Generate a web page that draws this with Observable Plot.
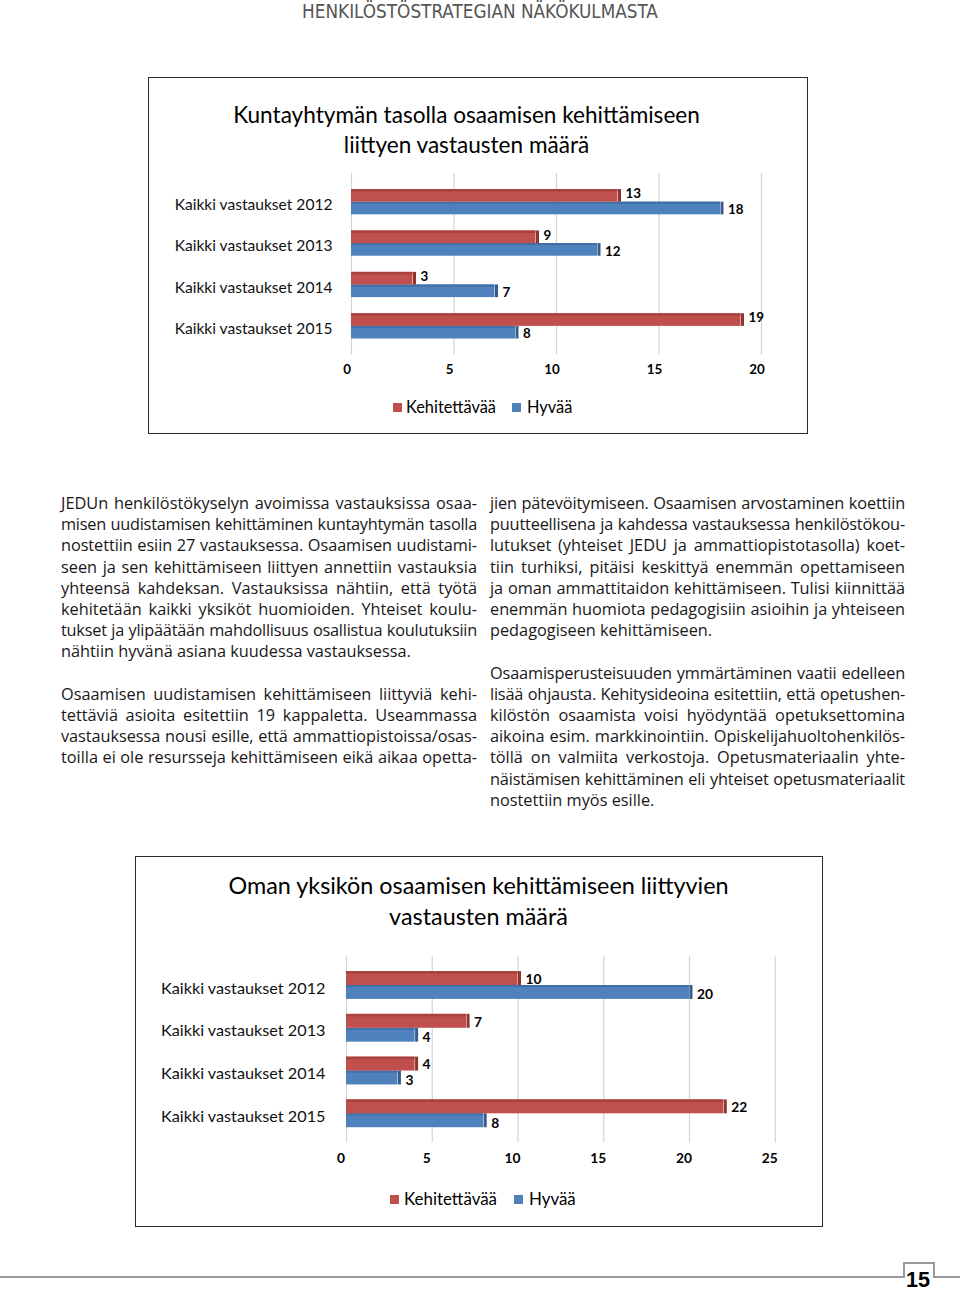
<!DOCTYPE html>
<html><head><meta charset="utf-8">
<script src="https://cdn.jsdelivr.net/npm/d3@7"></script>
<script src="https://cdn.jsdelivr.net/npm/@observablehq/plot@0.6"></script>
<style>
html,body{margin:0;padding:0;background:#fff;}
#page{position:relative;width:960px;height:1291px;overflow:hidden;font-family:Lato,sans-serif;color:#000;}
.abs{position:absolute;white-space:nowrap;}
.col{position:absolute;color:#1a1718;}
.ln{white-space:nowrap;text-align:justify;text-align-last:justify;}
.ln.last{text-align-last:left;}
</style></head><body><div id="page"></div>
<script>
// ---------- data ----------
const categories = ["Kaikki vastaukset 2012","Kaikki vastaukset 2013","Kaikki vastaukset 2014","Kaikki vastaukset 2015"];
const seriesNames = ["Kehitettävää","Hyvää"];
const chart1Title = ["Kuntayhtymän tasolla osaamisen kehittämiseen","liittyen vastausten määrä"];
const chart1Kehitettavaa = [13, 9, 3, 19];
const chart1Hyvaa = [18, 12, 7, 8];
const chart1Ticks = [0, 5, 10, 15, 20];
const chart2Title = ["Oman yksikön osaamisen kehittämiseen liittyvien","vastausten määrä"];
const chart2Kehitettavaa = [10, 7, 4, 22];
const chart2Hyvaa = [20, 4, 3, 8];
const chart2Ticks = [0, 5, 10, 15, 20, 25];
const headerText = "HENKILÖSTÖSTRATEGIAN NÄKÖKULMASTA";
const pageNumber = "15";
const leftColumn = [
 "JEDUn henkilöstökyselyn avoimissa vastauksissa osaa-",
 "misen uudistamisen kehittäminen kuntayhtymän tasolla",
 "nostettiin esiin 27 vastauksessa. Osaamisen uudistami-",
 "seen ja sen kehittämiseen liittyen annettiin vastauksia",
 "yhteensä kahdeksan. Vastauksissa nähtiin, että työtä",
 "kehitetään kaikki yksiköt huomioiden. Yhteiset koulu-",
 "tukset ja ylipäätään mahdollisuus osallistua koulutuksiin",
 "nähtiin hyvänä asiana kuudessa vastauksessa.|",
 "",
 "Osaamisen uudistamisen kehittämiseen liittyviä kehi-",
 "tettäviä asioita esitettiin 19 kappaletta. Useammassa",
 "vastauksessa nousi esille, että ammattiopistoissa/osas-",
 "toilla ei ole resursseja kehittämiseen eikä aikaa opetta-"
];
const rightColumn = [
 "jien pätevöitymiseen. Osaamisen arvostaminen koettiin",
 "puutteellisena ja kahdessa vastauksessa henkilöstökou-",
 "lutukset (yhteiset JEDU ja ammattiopistotasolla) koet-",
 "tiin turhiksi, pitäisi keskittyä enemmän opettamiseen",
 "ja oman ammattitaidon kehittämiseen. Tulisi kiinnittää",
 "enemmän huomiota pedagogisiin asioihin ja yhteiseen",
 "pedagogiseen kehittämiseen.|",
 "",
 "Osaamisperusteisuuden ymmärtäminen vaatii edelleen",
 "lisää ohjausta. Kehitysideoina esitettiin, että opetushen-",
 "kilöstön osaamista voisi hyödyntää opetuksettomina",
 "aikoina esim. markkinointiin. Opiskelijahuoltohenkilös-",
 "töllä on valmiita verkostoja. Opetusmateriaalin yhte-",
 "näistämisen kehittäminen eli yhteiset opetusmateriaalit",
 "nostettiin myös esille.|"
];

// ---------- styles ----------
const RED = "#c0504d", RED_TOP = "#a8423f", RED_SIDE = "#8f3431";
const BLUE = "#4f81bd", BLUE_TOP = "#3f6ea6", BLUE_SIDE = "#345d8e";
const FONT = "Lato";
const BODY_FONT = "'Open Sans'";

const page = document.getElementById("page");
const cvs = document.createElement("canvas").getContext("2d");
function mw(text, weight = "normal", family = FONT) { cvs.font = `${weight} 100px ${family}`; return cvs.measureText(text).width; }
function fit(text, target, weight = "normal", family = FONT) { return 100 * target / mw(text, weight, family); }

function addText(text, {cx, left, cy, size, weight = "normal", family = FONT, color = "#000", k = 0.6}) {
  const d = document.createElement("div");
  d.className = "abs";
  d.textContent = text;
  d.style.fontFamily = family; d.style.fontSize = size + "px"; d.style.fontWeight = weight;
  d.style.lineHeight = size + "px"; d.style.color = color;
  d.style.top = (cy - k * size) + "px";
  if (cx !== undefined) { d.style.left = cx + "px"; d.style.transform = "translateX(-50%)"; }
  else d.style.left = left + "px";
  page.appendChild(d);
  return d;
}
function addBox(left, top, w, h, css) {
  const d = document.createElement("div");
  d.style.position = "absolute"; d.style.left = left + "px"; d.style.top = top + "px";
  d.style.width = w + "px"; d.style.height = h + "px";
  Object.assign(d.style, css || {});
  page.appendChild(d);
  return d;
}

// ---------- header ----------
const HEAD_FAMILY = "'Liberation Sans Narrow','DejaVu Sans Condensed'";
addText(headerText, {cx: 480, cy: 11.5, size: fit(headerText, 356, "normal", HEAD_FAMILY), family: HEAD_FAMILY, color: "#555", k: 0.47});

// ---------- chart builder ----------
function makeChart(cfg) {
  const n = categories.length, p = cfg.padding;
  const yStart = cfg.firstCenter - cfg.step * (1 + p) / 2;
  const yEnd = yStart + cfg.step * (n + p);
  const bw = cfg.step * (1 - p);
  const max = cfg.ticks[cfg.ticks.length - 1];
  const marginLeft = cfg.x0 - cfg.left;
  const marginRight = cfg.width - marginLeft - cfg.unit * max;
  const marginTop = yStart - cfg.top;
  const marginBottom = cfg.height - (yEnd - cfg.top);
  const rows = categories.map((c, i) => ({cat: c, k: cfg.kehit[i], h: cfg.hyvaa[i]}));
  const catSize = fit(categories[0], cfg.catWidth);
  const numSize = fit("20", cfg.numWidth, "bold");
  const tickPad = cfg.tickLabelY - 0.36 * numSize - yEnd;
  const svg = Plot.plot({
    width: cfg.width, height: cfg.height,
    marginLeft, marginRight, marginTop, marginBottom,
    style: {fontFamily: FONT, color: "#000", background: "transparent", overflow: "visible"},
    x: {domain: [0, max], axis: null},
    y: {domain: categories, padding: p, round: false, axis: null},
    marks: [
      Plot.gridX(cfg.ticks, {stroke: "#d4d4d4", strokeOpacity: 1, strokeWidth: 1.2}),
      Plot.axisY({tickSize: 0, tickPadding: cfg.x0 - cfg.catRight, fontSize: catSize, fill: "#111", label: null, dy: cfg.catDy}),
      Plot.axisX(cfg.ticks, {tickSize: 0, tickPadding: tickPad, fontSize: numSize, fontWeight: "bold", dx: cfg.tickDx, fill: "#000", label: null}),
      Plot.barX(rows, {x: "h", y: "cat", fill: BLUE, insetTop: bw / 2}),
      Plot.barX(rows, {x: "h", y: "cat", fill: BLUE_TOP, insetTop: bw / 2, insetBottom: bw / 2 - 2}),
      Plot.tickX(rows, {x: "h", y: "cat", stroke: BLUE_SIDE, strokeWidth: 3, dx: 1.5, insetTop: bw / 2}),
      Plot.barX(rows, {x: "k", y: "cat", fill: RED, insetBottom: bw / 2}),
      Plot.barX(rows, {x: "k", y: "cat", fill: RED_TOP, insetBottom: bw - 2.5}),
      Plot.tickX(rows, {x: "k", y: "cat", stroke: RED_SIDE, strokeWidth: 3, dx: 1.5, insetBottom: bw / 2}),
      Plot.text(rows, {x: "k", y: "cat", text: d => String(d.k), textAnchor: "start", dx: cfg.valDx, dy: cfg.redDy, fontWeight: "bold", fontSize: numSize, fill: "#000"}),
      Plot.text(rows, {x: "h", y: "cat", text: d => String(d.h), textAnchor: "start", dx: cfg.valDx, dy: cfg.blueDy, fontWeight: "bold", fontSize: numSize, fill: "#000"})
    ]
  });
  svg.style.position = "absolute";
  svg.style.left = cfg.left + "px";
  svg.style.top = cfg.top + "px";
  page.appendChild(svg);

  // frame
  addBox(cfg.frame[0], cfg.frame[1], cfg.frame[2] - cfg.frame[0], cfg.frame[3] - cfg.frame[1], {border: "1.6px solid #2a2a2a", boxSizing: "border-box"});
  // title
  const tSize = fit(cfg.title[0], cfg.titleWidth);
  addText(cfg.title[0], {cx: cfg.titleCx, cy: cfg.titleY[0], size: tSize, k: 0.5});
  addText(cfg.title[1], {cx: cfg.titleCx, cy: cfg.titleY[1], size: tSize, k: 0.5});
  // legend
  const lSize = fit(seriesNames[0], cfg.legWidth);
  const L = cfg.legend;
  addBox(L.sq1, L.cy - 4.5, 9, 9, {background: RED});
  addText(seriesNames[0], {left: L.t1, cy: L.cy, size: lSize, k: 0.5});
  addBox(L.sq2, L.cy - 4.5, 9, 9, {background: BLUE});
  addText(seriesNames[1], {left: L.t2, cy: L.cy, size: lSize, k: 0.5});
}

makeChart({
  kehit: chart1Kehitettavaa, hyvaa: chart1Hyvaa, ticks: chart1Ticks, title: chart1Title,
  left: 148, top: 160, width: 659, height: 225,
  x0: 351, unit: 20.5,
  firstCenter: 201.7, step: 41.4, padding: 0.39,
  tickLabelY: 369, tickDx: -4.5, catRight: 332, catWidth: 158.3, catDy: 2.5, numWidth: 15.5,
  valDx: 7.5, redDy: -8.3, blueDy: 7.7,
  frame: [148, 77, 808, 434],
  titleCx: 466.5, titleY: [115, 145], titleWidth: 467,
  legWidth: 90, legend: {cy: 407.5, sq1: 393, t1: 406, sq2: 512, t2: 527}
});
makeChart({
  kehit: chart2Kehitettavaa, hyvaa: chart2Hyvaa, ticks: chart2Ticks, title: chart2Title,
  left: 135, top: 940, width: 687, height: 235,
  x0: 346, unit: 17.15,
  firstCenter: 985, step: 42.77, padding: 0.35,
  tickLabelY: 1158, tickDx: -5.5, catRight: 325, catWidth: 165, catDy: 3, numWidth: 16,
  valDx: 7.5, redDy: -6, blueDy: 9.3,
  frame: [135, 856, 823, 1227],
  titleCx: 478.5, titleY: [886, 917], titleWidth: 501,
  legWidth: 93, legend: {cy: 1199.5, sq1: 390, t1: 404, sq2: 514, t2: 529}
});

// ---------- body text ----------
// font size chosen so that a typical full line fits the column with normal word spacing
function bodySize(allLines, width) {
  const ratios = allLines.filter(s => s && !s.endsWith("|")).map(s => (width - 2) / (mw(s, "normal", BODY_FONT) / 100)).sort((a, b) => a - b);
  return ratios[Math.floor(ratios.length / 2)];
}
function addColumn(lines, left, width, firstCy, lh, size) {
  const col = document.createElement("div");
  col.className = "col";
  col.style.left = left + "px"; col.style.width = width + "px";
  col.style.fontFamily = BODY_FONT; col.style.fontSize = size + "px"; col.style.lineHeight = lh + "px";
  col.style.top = (firstCy - lh / 2 - 0.118 * size + 0.5) + "px";
  lines.forEach(s => {
    const t = s.replace("|", "");
    const d = document.createElement("div");
    d.className = "ln" + (s.endsWith("|") ? " last" : "");
    d.textContent = t || "\u00a0";
    const natural = mw(t, "normal", BODY_FONT) / 100 * size;
    if (natural > width - 2) {
      d.style.letterSpacing = ((width - 2 - natural) / t.length) + "px";
    }
    col.appendChild(d);
  });
  page.appendChild(col);
}
const BODY_SIZE = Math.min(16.8, bodySize(leftColumn.concat(rightColumn), 416));
addColumn(leftColumn, 61, 416, 505, 21.2, BODY_SIZE);
addColumn(rightColumn, 490, 415, 505, 21.2, BODY_SIZE);

// ---------- footer ----------
const G = "#9a9a9a";
addBox(0, 1276, 905, 2, {background: G});
addBox(903, 1262, 32, 16, {borderTop: `2px solid ${G}`, borderLeft: `2px solid ${G}`, borderRight: `2px solid ${G}`, boxSizing: "border-box"});
addBox(933, 1276, 27, 2, {background: G});
addText(pageNumber, {cx: 918, cy: 1281, size: fit(pageNumber, 24, "bold", "'Liberation Sans'"), weight: "bold", family: "'Liberation Sans'", k: 0.55});
</script></body></html>
